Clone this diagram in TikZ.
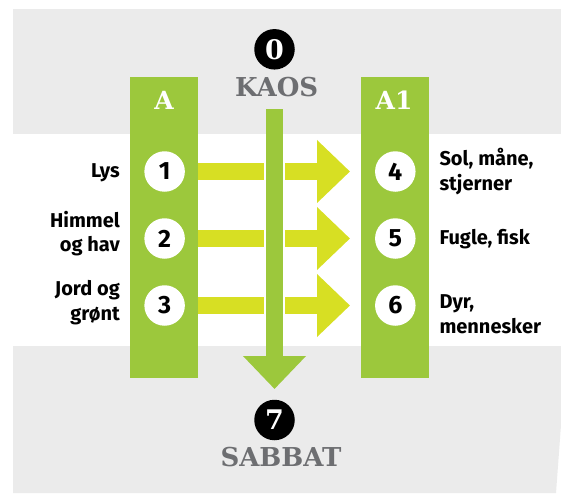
\documentclass[tikz,border=0pt]{standalone}
\usepackage{fontspec}
\setmainfont{Fira Sans}
\newfontfamily\slabfont{DejaVu Serif}
\usetikzlibrary{arrows.meta}
\definecolor{band}{HTML}{EBEBEB}
\definecolor{colgreen}{HTML}{9CC83C}
\definecolor{arrowyel}{HTML}{D7DF23}
\definecolor{txtgray}{HTML}{6D6E71}
\begin{document}
\begin{tikzpicture}[x=1pt,y=-1pt,
  colbox/.style={fill=colgreen, minimum width=68pt, minimum height=301pt, inner sep=0pt, outer sep=0pt},
  head/.style={text=white, font=\slabfont\bfseries\fontsize{25}{25}\selectfont, inner sep=0pt},
  title/.style={text=txtgray, font=\slabfont\bfseries\fontsize{26}{26}\selectfont, inner sep=0pt},
  blackdot/.style={circle, fill=black, text=white, minimum size=40.5pt, inner sep=0pt, font=\slabfont\bfseries\fontsize{27}{27}\selectfont},
  whitedot/.style={circle, fill=white, text=black, minimum size=40.5pt, inner sep=0pt, font=\bfseries\fontsize{25}{25}\selectfont},
  lbl/.style={font=\bfseries\fontsize{20}{24.5}\selectfont, inner sep=0pt},
  lbll/.style={lbl, anchor=base east, align=right},
  lblr/.style={lbl, anchor=base west, align=left},
  harrow/.style={draw=arrowyel, line width=17pt, -{Triangle[width=61pt,length=33pt]}},
  varrow/.style={draw=colgreen, line width=17pt, -{Triangle[width=61pt,length=33pt]}}
]
\useasboundingbox (0,0) rectangle (561,493);
% background bands
\fill[band] (13,9) rectangle (561,134);
\fill[band] (13,346) -- (561,346) -- (561,425) -- (556,493) -- (13,493) -- cycle;
% columns
\node[colbox] (colA) at (164,227.5) {};
\node[colbox] (colB) at (395,227.5) {};
\node[head] (hA) at (164,100) {A};
\node[head] (hB) at (394,100) {A1};
% circles
\node[whitedot] (c1) at (164.6,171.5) {1};
\node[whitedot] (c2) at (164.6,238.5) {2};
\node[whitedot] (c3) at (164.6,305.5) {3};
\node[whitedot] (c4) at (395.3,171.5) {4};
\node[whitedot] (c5) at (395.3,238.5) {5};
\node[whitedot] (c6) at (395.3,305.5) {6};
% horizontal arrows
\foreach \a/\b in {c1/c4,c2/c5,c3/c6}{
  \draw[harrow, shorten >=11pt] (colA.east |- \a) -- (colB.west |- \b);
}
\fill[white] (264,134) rectangle (285,346);
% top and bottom
\node[blackdot] (c0) at (274.5,49.3) {0};
\node[title] (kaos) at (276.6,87.3) {KAOS};
\node[blackdot] (c7) at (274.5,420) {7};
\node[title] (sabbat) at (281,457.5) {SABBAT};
\coordinate (vtop) at (274.5,109);
\coordinate (vtip) at (274.5,389);
\draw[varrow] (vtop) -- (vtip);
% labels (base = baseline of last line)
\node[lbll] (l1) at (120,177.7) {Lys};
\node[lbll] (l2) at (120,251.7) {Himmel\\og hav};
\node[lbll] (l3) at (120,320) {Jord og\\grønt};
\node[lblr] (r1) at (439.3,190) {Sol, måne,\\stjerner};
\node[lblr] (r2) at (439.3,244) {Fugle, fisk};
\node[lblr] (r3) at (439.3,333.3) {Dyr,\\mennesker};
\end{tikzpicture}
\end{document}
